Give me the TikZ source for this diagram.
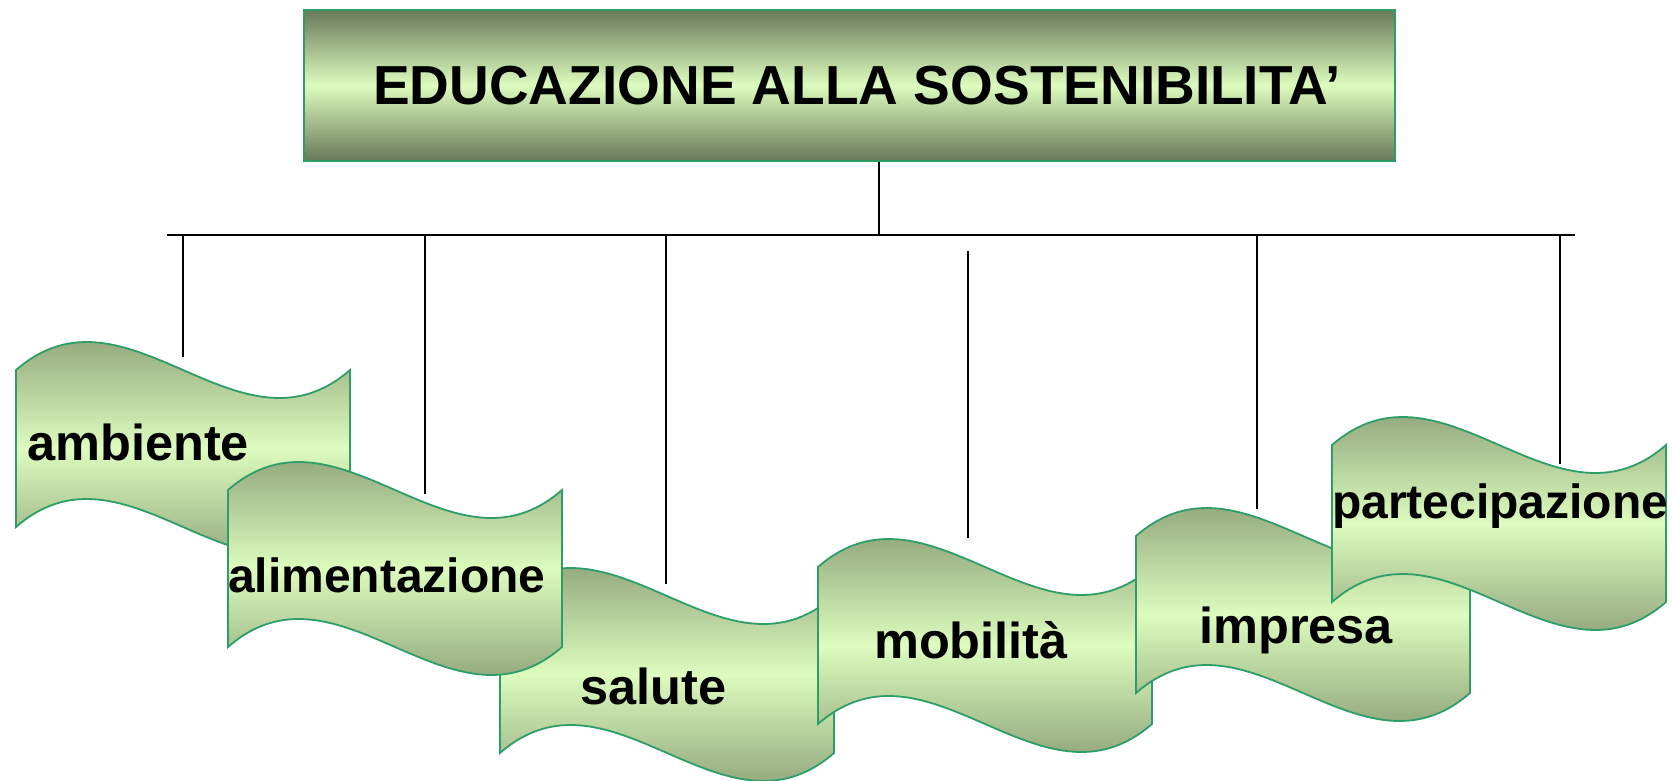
\documentclass[tikz,border=0pt]{standalone}
\usepackage{fontspec}
\setmainfont{Liberation Sans}
\definecolor{darkg}{RGB}{104,120,89}
\definecolor{lightg}{RGB}{221,252,190}
\definecolor{edgeg}{RGB}{46,158,104}
\tikzset{
  shadebox/.style={draw=edgeg, line width=1.8, top color=darkg, bottom color=darkg, middle color=lightg},
  conn/.style={draw=black, line width=1.6},
  lbl/.style={anchor=base west, inner sep=0pt, font=\bfseries\fontsize{50.5}{50.5}\selectfont},
  lbls/.style={anchor=base west, inner sep=0pt, font=\bfseries\fontsize{48}{48}\selectfont},
}
% wave shape: #1 left x, #2 top y
\newcommand{\wavebox}[2]{%
  \path[shadebox] (#1,#2) .. controls ++(111.3,-97) and ++(-111.3,97) .. ++(334,0)
    -- ++(0,157) .. controls ++(-111.3,97) and ++(111.3,-97) .. ++(-334,0) -- cycle;}
\begin{document}
\begin{tikzpicture}[x=1pt,y=-1pt]
\useasboundingbox (0,0) rectangle (1672,781);
% title box
\node[shadebox, minimum width=1091, minimum height=151, inner sep=0pt, anchor=north west,
  font=\bfseries\fontsize{55}{55}\selectfont] (title) at (303,9)
  {\raisebox{-5pt}{\hspace*{15pt}EDUCAZIONE ALLA SOSTENIBILITA'}};
% connectors
\coordinate (hub) at (879,235);
\coordinate (barL) at (167,235);
\coordinate (barR) at (1575,235);
\coordinate (e1) at (183,357);
\coordinate (e2) at (425,494);
\coordinate (e3) at (666,584);
\coordinate (s4) at (968,251);
\coordinate (e4) at (968,538);
\coordinate (e5) at (1257,509);
\coordinate (e6) at (1560,464);
\draw[conn] (title.south -| hub) -- (hub);
\draw[conn] (barL) -- (barR);
\draw[conn] (barL -| e1) -- (e1);
\draw[conn] (barL -| e2) -- (e2);
\draw[conn] (barL -| e3) -- (e3);
\draw[conn] (s4) -- (e4);
\draw[conn] (barL -| e5) -- (e5);
\draw[conn] (barL -| e6) -- (e6);
% wave shapes
\wavebox{16}{370}
\node[lbl] (amb) at (27,460) {ambiente};
\wavebox{500}{596}
\node[lbl] (sal) at (580,704) {salute};
\wavebox{228}{490}
\node[lbls] (ali) at (228,592) {alimentazione};
\wavebox{818}{567}
\node[lbl] (mob) at (874,658) {mobilità};
\wavebox{1136}{536}
\node[lbl] (imp) at (1199,643) {impresa};
\wavebox{1332}{445}
\node[lbls] (par) at (1332,518) {partecipazione};
\end{tikzpicture}
\end{document}
